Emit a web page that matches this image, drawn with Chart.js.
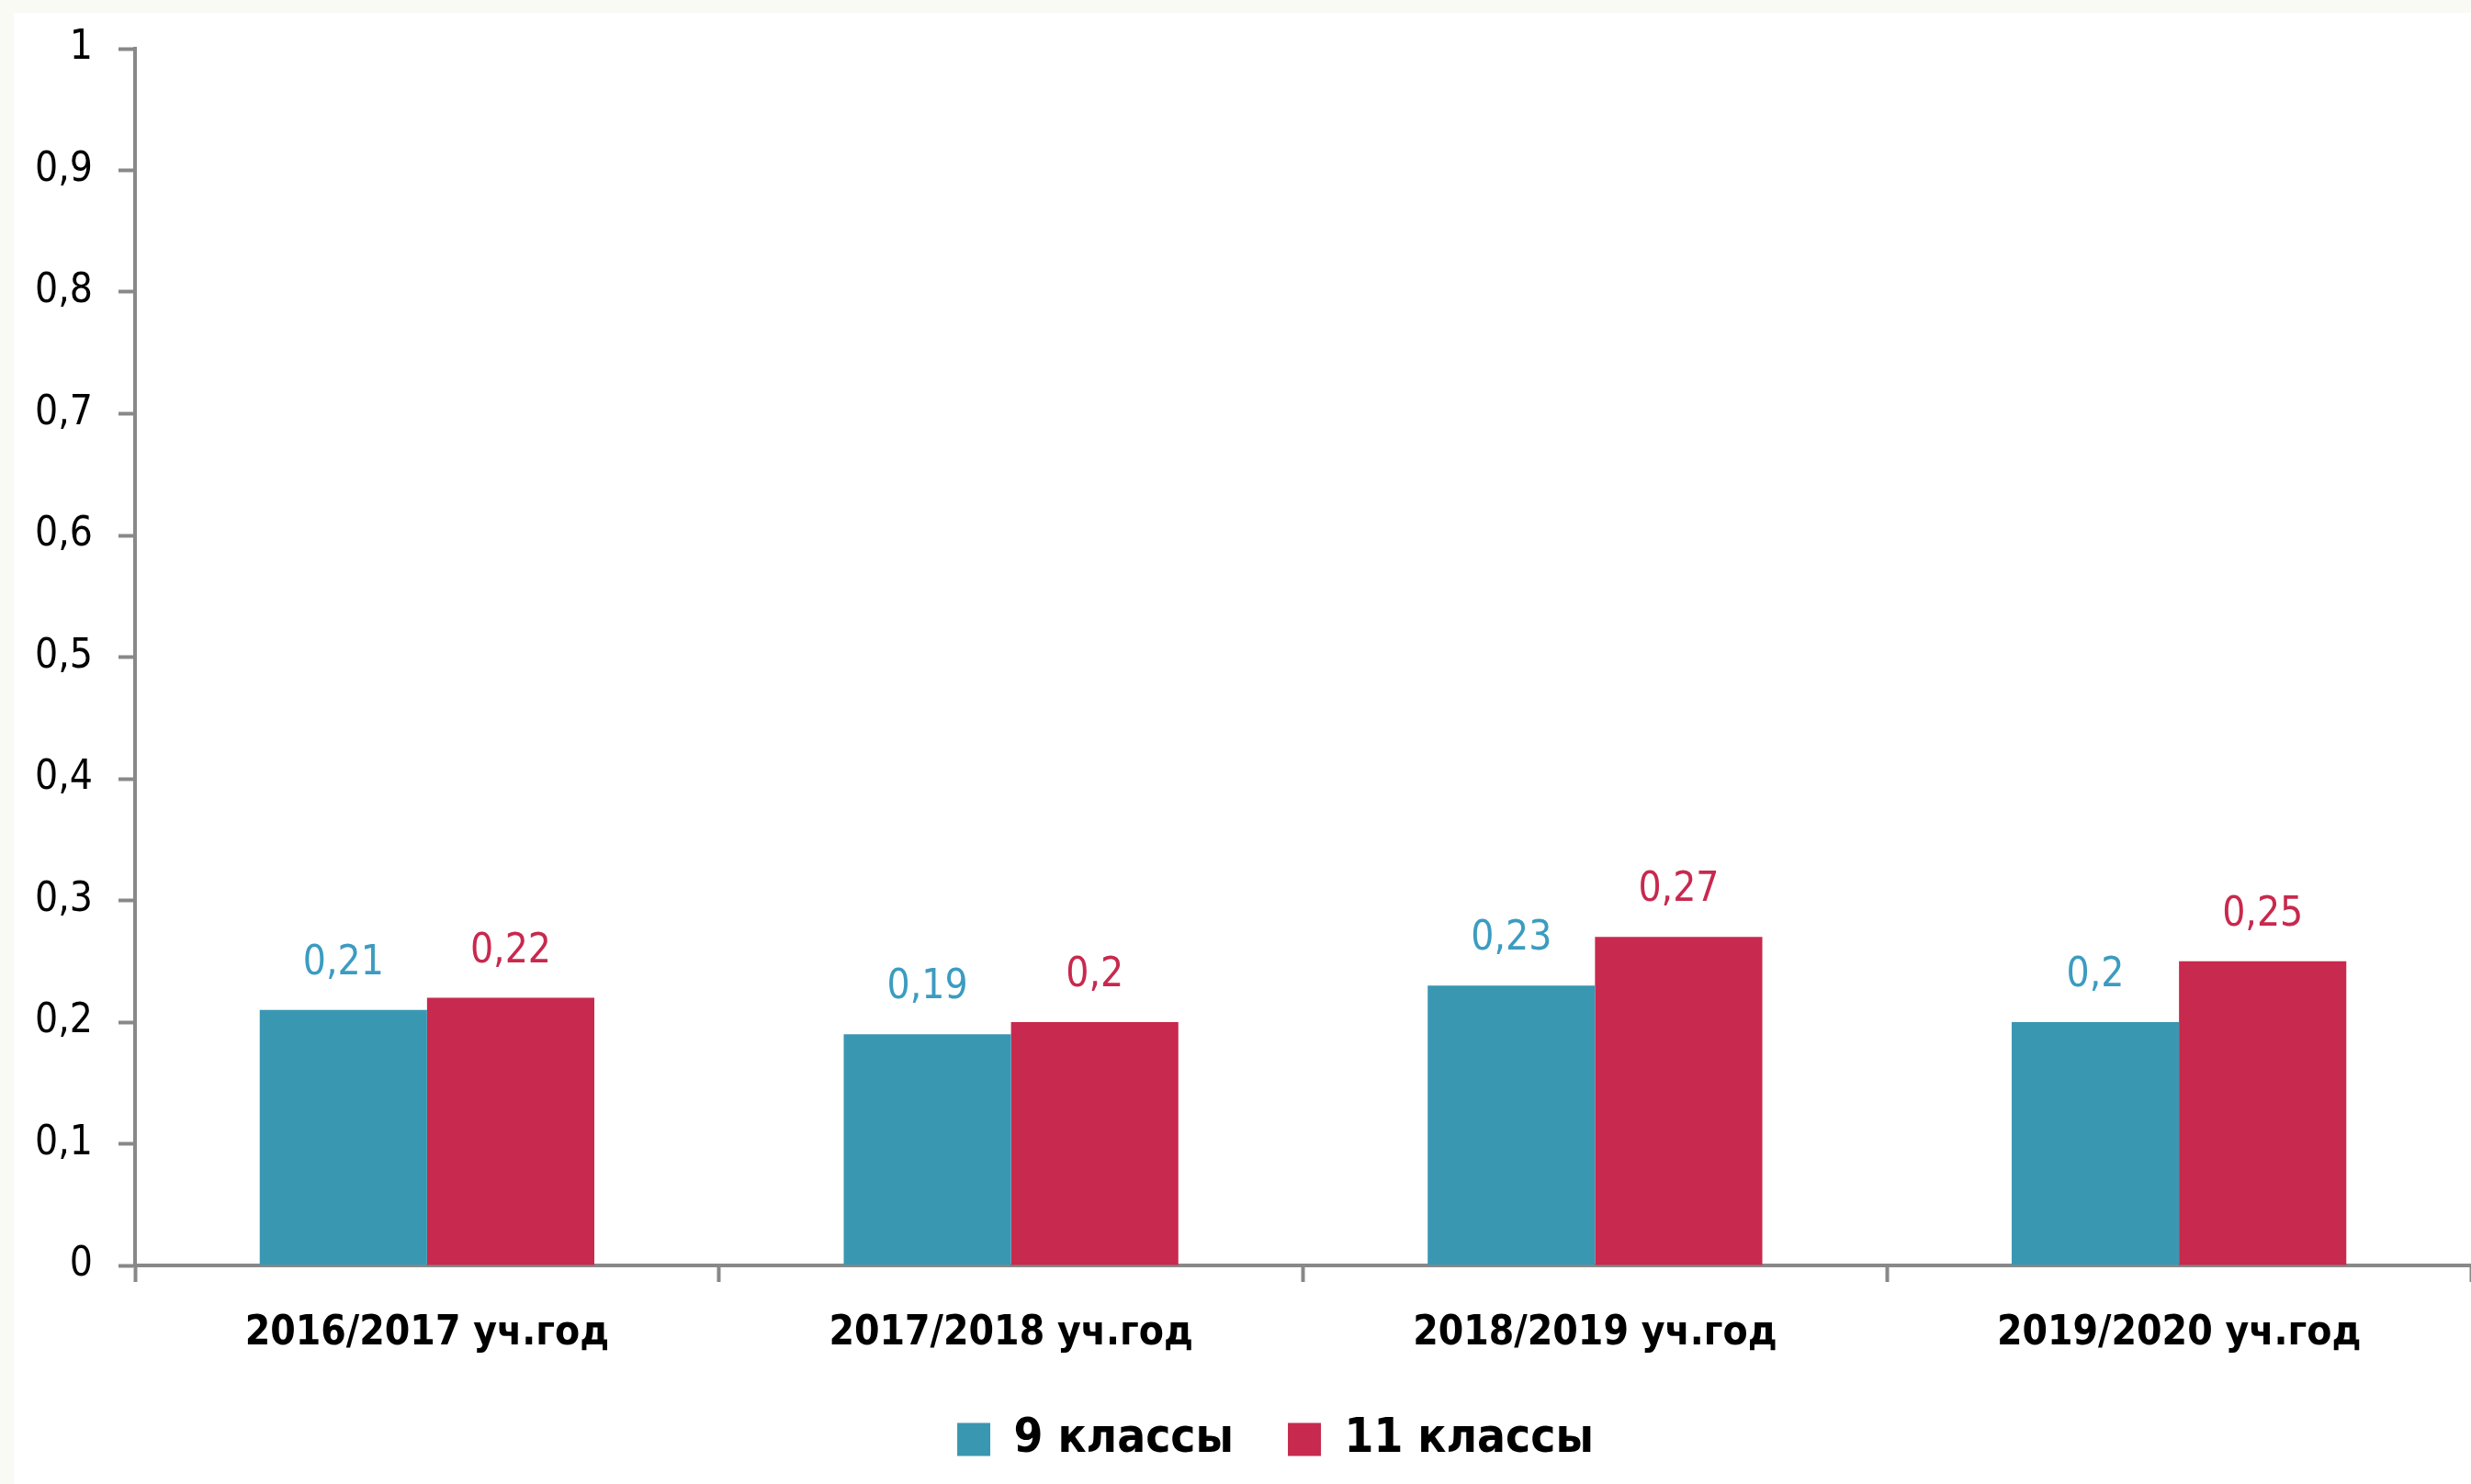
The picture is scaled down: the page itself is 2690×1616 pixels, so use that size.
<!DOCTYPE html>
<html><head><meta charset="utf-8">
<script src="https://cdn.jsdelivr.net/npm/chart.js@4.4.1/dist/chart.umd.min.js"></script>
<style>
html,body{margin:0;padding:0;background:#FAFAF4;width:2690px;height:1616px;overflow:hidden}
#c{position:absolute;left:15px;top:14px;background:#ffffff}
</style></head><body>
<canvas id="c" width="2675" height="1602"></canvas>
<script>
const categories = ['2016/2017 уч.год', '2017/2018 уч.год', '2018/2019 уч.год', '2019/2020 уч.год'];
const seriesNames = ['9 классы', '11 классы'];
const grade9 = [0.21, 0.19, 0.23, 0.2];
const grade11 = [0.22, 0.2, 0.27, 0.25];
const yTickValues = [0, 0.1, 0.2, 0.3, 0.4, 0.5, 0.6, 0.7, 0.8, 0.9, 1];
const yTickLabels = ['0', '0,1', '0,2', '0,3', '0,4', '0,5', '0,6', '0,7', '0,8', '0,9', '1'];

const FAMILY = "'DejaVu Sans Condensed', 'DejaVu Sans', sans-serif";
const BLUE = '#3A97B2', RED = '#C8294E';
const AXIS = '#888888';

const valueLabels = {
  id: 'valueLabels',
  afterDatasetsDraw(chart) {
    const ctx = chart.ctx;
    chart.data.datasets.forEach((ds, i) => {
      const meta = chart.getDatasetMeta(i);
      ctx.save();
      ctx.font = '44px ' + FAMILY;
      ctx.fillStyle = ds.labelColor;
      ctx.textAlign = 'center';
      ctx.textBaseline = 'alphabetic';
      meta.data.forEach((bar, j) => {
        ctx.fillText(String(ds.data[j]).replace('.', ','), bar.x, bar.y - 39);
      });
      ctx.restore();
    });
  }
};

const legendShift = {
  id: 'legendShift',
  afterLayout(chart) {
    if (chart.legend) { chart.legend.left = 72; }
  }
};

Chart.defaults.font.family = FAMILY;
new Chart(document.getElementById('c'), {
  type: 'bar',
  data: {
    labels: categories,
    datasets: [
      { label: seriesNames[0], data: grade9, backgroundColor: BLUE, labelColor: '#3B9CC0', borderWidth: 0 },
      { label: seriesNames[1], data: grade11, backgroundColor: RED, labelColor: '#C8294E', borderWidth: 0 }
    ]
  },
  options: {
    responsive: false,
    devicePixelRatio: 1,
    animation: false,
    categoryPercentage: 0.573,
    barPercentage: 1,
    layout: { padding: { left: 0, right: 0, top: 39, bottom: 13 } },
    plugins: {
      tooltip: { enabled: false },
      legend: {
        position: 'bottom',
        labels: {
          boxWidth: 36, boxHeight: 36, padding: 59, color: '#000000',
          font: { size: 51, weight: 'bold', family: FAMILY }
        }
      }
    },
    scales: {
      x: {
        afterFit(scale) { scale.height = 105; scale.paddingLeft = 0; scale.paddingRight = 0; },
        ticks: { padding: 30, color: '#000000', font: { size: 44, weight: 'bold', family: FAMILY } },
        grid: { drawOnChartArea: false, drawTicks: true, tickLength: 18, tickWidth: 4, tickColor: AXIS, offset: true },
        border: { color: AXIS, width: 4 }
      },
      y: {
        min: 0, max: 1,
        afterBuildTicks(scale) { scale.ticks = yTickValues.map(v => ({ value: v })); },
        afterFit(scale) { scale.width = 132; scale.paddingTop = 0; scale.paddingBottom = 0; },
        ticks: { padding: 28, color: '#000000', font: { size: 44, family: FAMILY },
          callback: (v, i) => yTickLabels[i] },
        grid: { drawOnChartArea: false, drawTicks: true, tickLength: 18, tickWidth: 4, tickColor: AXIS },
        border: { color: AXIS, width: 4 }
      }
    }
  },
  plugins: [valueLabels, legendShift]
});
</script>
</body></html>
